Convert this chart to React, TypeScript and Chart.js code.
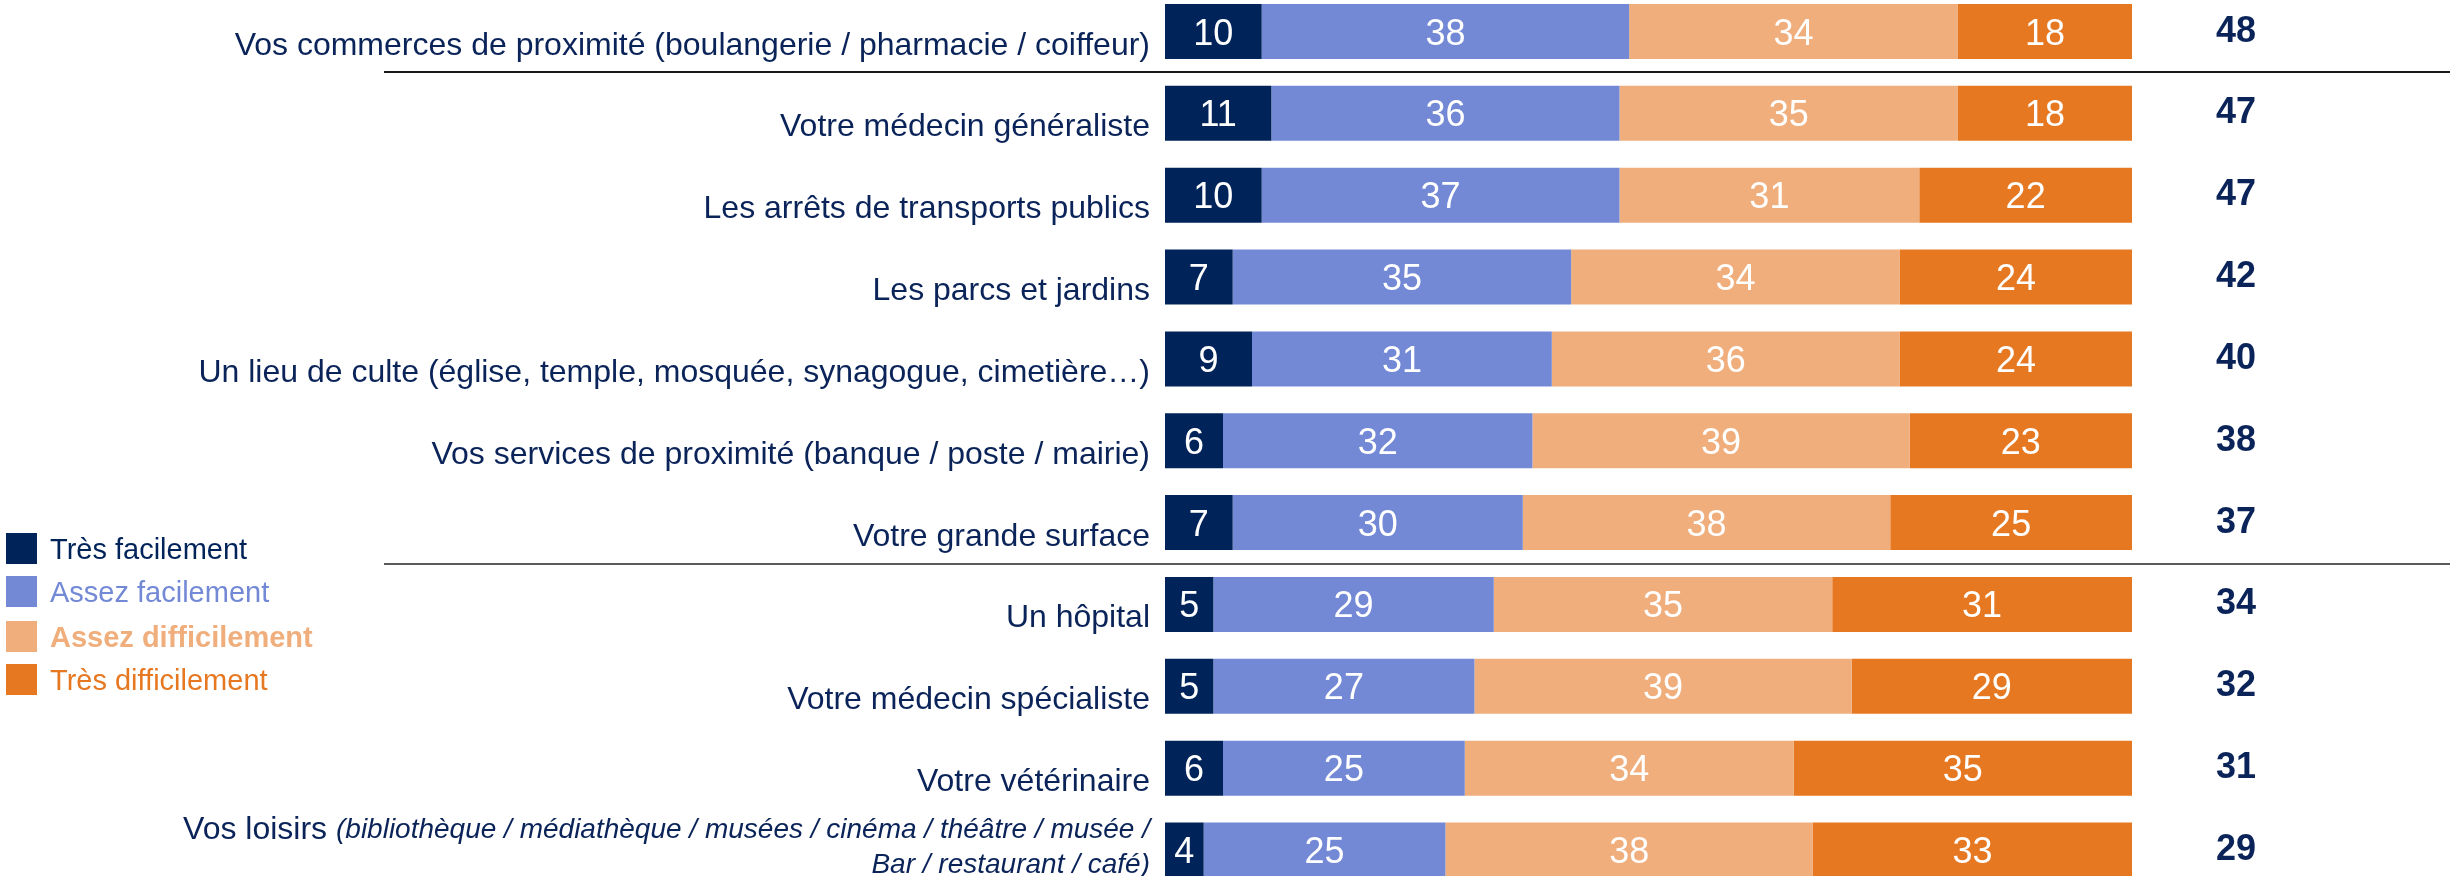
import React, { useEffect, useRef } from "react";
import { Chart, registerables } from "chart.js";

Chart.register(...registerables);

const categories = [
  "Vos commerces de proximité (boulangerie / pharmacie / coiffeur)",
  "Votre médecin généraliste",
  "Les arrêts de transports publics",
  "Les parcs et jardins",
  "Un lieu de culte (église, temple, mosquée, synagogue, cimetière…)",
  "Vos services de proximité (banque / poste / mairie)",
  "Votre grande surface",
  "Un hôpital",
  "Votre médecin spécialiste",
  "Votre vétérinaire",
  "Vos loisirs",
];
const loisirsNoteLine1 = "(bibliothèque / médiathèque / musées / cinéma / théâtre / musée /";
const loisirsNoteLine2 = "Bar / restaurant / café)";

const seriesNames = ["Très facilement", "Assez facilement", "Assez difficilement", "Très difficilement"];
const tresFacilement = [10, 11, 10, 7, 9, 6, 7, 5, 5, 6, 4];
const assezFacilement = [38, 36, 37, 35, 31, 32, 30, 29, 27, 25, 25];
const assezDifficilement = [34, 35, 31, 34, 36, 39, 38, 35, 39, 34, 38];
const tresDifficilement = [18, 18, 22, 24, 24, 23, 25, 31, 29, 35, 33];
const totalFacilement = [48, 47, 47, 42, 40, 38, 37, 34, 32, 31, 29];

const COLORS = ["#00245A", "#7389D6", "#F0AE7C", "#E77822"];
const TEXT_NAVY = "#0A2359";
const ARIAL = "'Liberation Sans', Arial, sans-serif";

const overlayPlugin = {
  id: "overlay",
  afterDatasetsDraw(chart: any) {
    const ctx: CanvasRenderingContext2D = chart.ctx;
    const yScale = chart.scales.y;
    ctx.save();

    // value labels inside bars
    ctx.fillStyle = "#FFFFFF";
    ctx.font = `36px ${ARIAL}`;
    ctx.textAlign = "center";
    ctx.textBaseline = "alphabetic";
    chart.data.datasets.forEach((ds: any, di: number) => {
      const meta = chart.getDatasetMeta(di);
      meta.data.forEach((bar: any, i: number) => {
        const p = bar.getProps(["x", "y", "base"], true);
        ctx.fillText(String(ds.data[i]), (p.x + p.base) / 2, p.y + 13);
      });
    });

    // totals column
    ctx.fillStyle = TEXT_NAVY;
    ctx.font = `bold 36px ${ARIAL}`;
    totalFacilement.forEach((t, i) => {
      const y = yScale.getPixelForValue(i);
      ctx.fillText(String(t), 2236, y + 10);
    });

    // category labels
    ctx.textAlign = "right";
    const labelRight = 1150;
    categories.forEach((c, i) => {
      const y = yScale.getPixelForValue(i);
      if (i === categories.length - 1) {
        ctx.font = `italic 28px ${ARIAL}`;
        const w1 = ctx.measureText(loisirsNoteLine1).width;
        ctx.fillText(loisirsNoteLine1, labelRight, y - 12);
        ctx.fillText(loisirsNoteLine2, labelRight, y + 22.5);
        ctx.font = `32px ${ARIAL}`;
        ctx.fillText(c + " ", labelRight - w1, y - 11);
      } else {
        ctx.font = `32px ${ARIAL}`;
        ctx.fillText(c, labelRight, y + 23);
      }
    });

    // separator lines
    const sep = (a: number, color: string) => {
      const ly = Math.round((yScale.getPixelForValue(a) + yScale.getPixelForValue(a + 1)) / 2);
      ctx.strokeStyle = color;
      ctx.lineWidth = 2;
      ctx.beginPath();
      ctx.moveTo(384, ly);
      ctx.lineTo(2450, ly);
      ctx.stroke();
    };
    sep(0, "#1A1A1A");
    sep(6, "#5A5A5A");

    // legend
    const legendTops = [533, 576, 621, 664];
    ctx.textAlign = "left";
    seriesNames.forEach((n, i) => {
      ctx.fillStyle = COLORS[i];
      ctx.fillRect(6, legendTops[i], 31, 31);
      ctx.font = `${i === 2 ? "bold " : ""}29px ${ARIAL}`;
      ctx.fillText(n, 50, legendTops[i] + 26);
    });

    ctx.restore();
  },
};

export default function App() {
  const canvasRef = useRef<HTMLCanvasElement | null>(null);

  useEffect(() => {
    if (!canvasRef.current) return;
    const series = [tresFacilement, assezFacilement, assezDifficilement, tresDifficilement];
    const chart = new Chart(canvasRef.current, {
      type: "bar",
      data: {
        labels: categories,
        datasets: series.map((d, i) => ({
          label: seriesNames[i],
          data: d,
          backgroundColor: COLORS[i],
          borderWidth: 0,
          barPercentage: 0.672,
          categoryPercentage: 1,
          clip: false as any,
        })),
      },
      options: {
        indexAxis: "y",
        responsive: false,
        animation: false,
        layout: { padding: { left: 1165, right: 318, top: 31.5, bottom: 26 } },
        scales: {
          x: { stacked: true, min: 0, max: 100, display: false },
          y: { stacked: true, display: false, offset: false },
        },
        plugins: {
          legend: { display: false },
          tooltip: { enabled: false },
        },
      },
      plugins: [overlayPlugin],
    });
    return () => chart.destroy();
  }, []);

  return (
    <div style={{ position: "absolute", left: 0, top: 0, width: 2450, height: 876, background: "#FFFFFF" }}>
      <canvas ref={canvasRef} width={2450} height={876} style={{ display: "block" }} />
    </div>
  );
}
